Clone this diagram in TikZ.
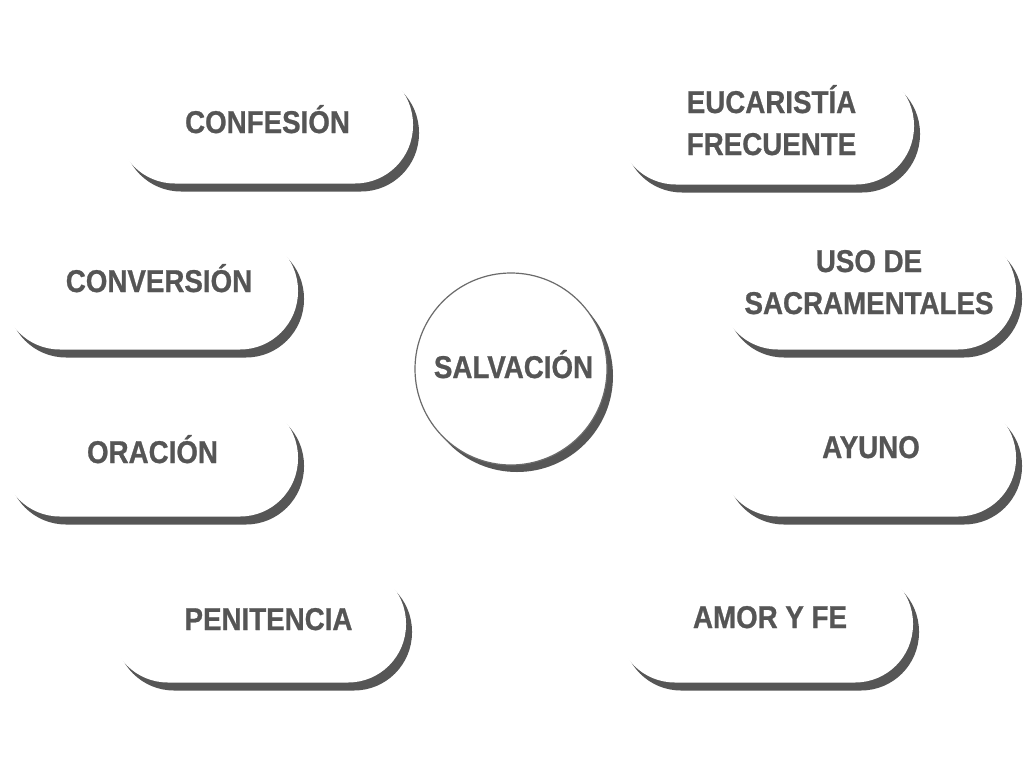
\documentclass[tikz,border=0pt]{standalone}
\usepackage{fontspec}
\setmainfont{Liberation Sans}[FakeStretch=0.88]
\newfontfamily\lblfont{Liberation Sans Bold}[FakeStretch=0.88,FakeBold=0.8]
\usetikzlibrary{shadows}
\definecolor{txtgray}{HTML}{555555}
\definecolor{shgray}{HTML}{565656}
\definecolor{ringgray}{HTML}{6A6A6A}
\tikzset{
  pill/.style={rectangle, rounded corners=58pt, minimum width=296pt, minimum height=117pt,
    inner sep=0pt, fill=white,
    drop shadow={fill=shgray, opacity=1, shadow xshift=6pt, shadow yshift=-8pt}},
  hub/.style={circle, minimum size=192pt, inner sep=0pt, fill=white, draw=ringgray,
    line width=1.2pt,
    drop shadow={fill=shgray, opacity=1, shadow xshift=6pt, shadow yshift=-7pt}},
  lbl/.style={anchor=base, inner sep=0pt, text=txtgray,
    font=\fontsize{31.5}{42}\selectfont\lblfont},
}
\newcommand{\twolines}[2]{\begin{tabular}[t]{@{}c@{}}#1\\#2\end{tabular}}
\begin{document}
\begin{tikzpicture}[x=1pt,y=-1pt]
  \useasboundingbox (0,0) rectangle (1024,768);
  \fill[white] (0,0) rectangle (1024,768);

  \node[pill] (conf) at (265,125) {};
  \node[pill] (euc)  at (766,126) {};
  \node[pill] (conv) at (150,291) {};
  \node[pill] (uso)  at (868,291) {};
  \node[pill] (ora)  at (150,458) {};
  \node[pill] (ayu)  at (868,458) {};
  \node[pill] (pen)  at (258,624) {};
  \node[pill] (amor) at (765,624) {};
  \node[hub]  (salv) at (511,369) {};

  \node[lbl] (confT) at (267.5,133) {CONFESIÓN};
  \node[lbl] (eucT)  at (771.5,113) {\twolines{EUCARISTÍA}{FRECUENTE}};
  \node[lbl] (convT) at (159,292) {CONVERSIÓN};
  \node[lbl] (usoT)  at (869,272) {\twolines{USO DE}{SACRAMENTALES}};
  \node[lbl] (oraT)  at (152.5,463) {ORACIÓN};
  \node[lbl] (ayuT)  at (871,458) {AYUNO};
  \node[lbl] (penT)  at (268.5,630) {PENITENCIA};
  \node[lbl] (amorT) at (770,628) {AMOR Y FE};
  \node[lbl] (salvT) at (513.5,378) {SALVACIÓN};
\end{tikzpicture}
\end{document}
